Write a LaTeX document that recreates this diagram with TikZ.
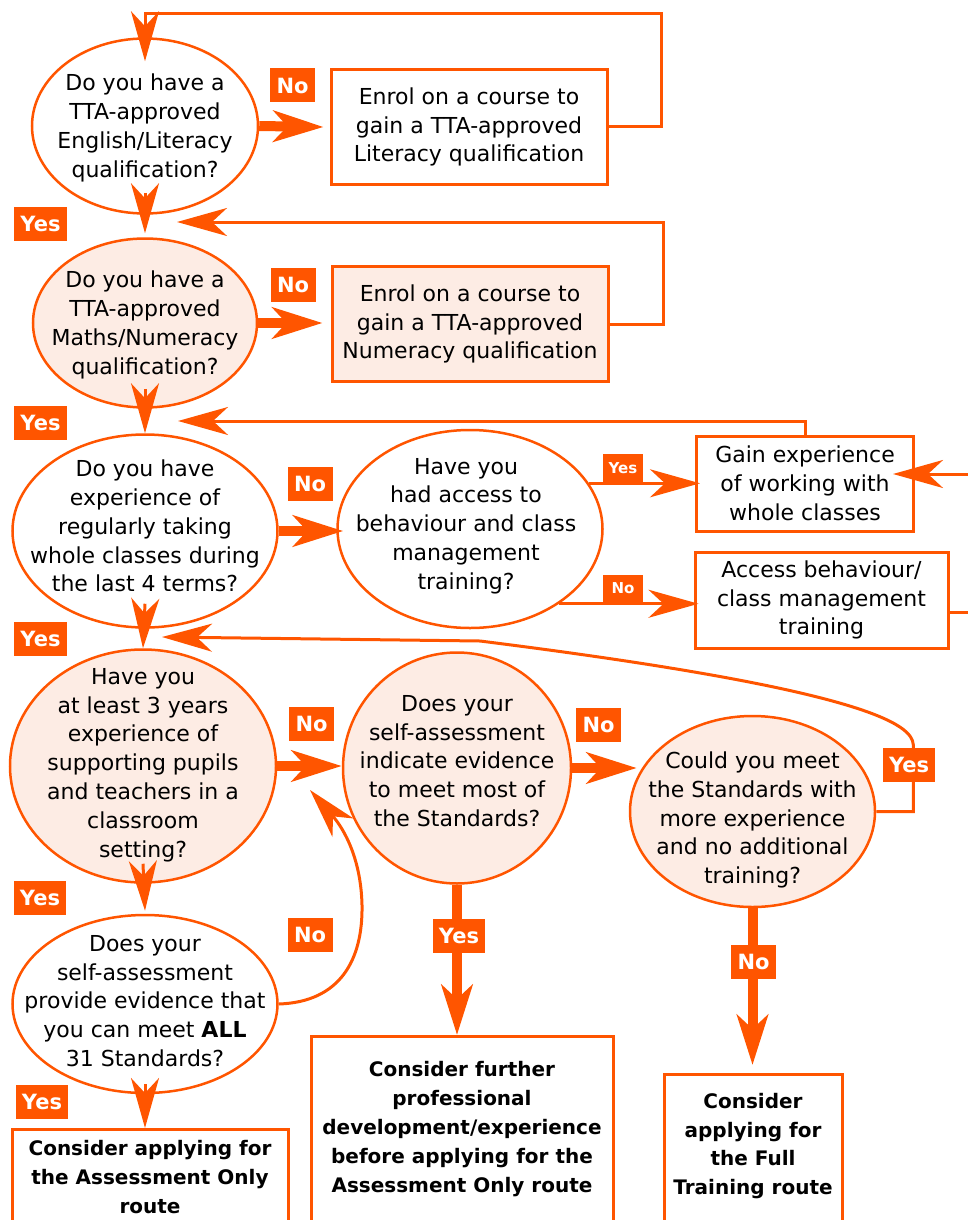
\documentclass[tikz,border=0pt]{standalone}
\usepackage{fontspec}
\setmainfont{DejaVu Sans}
\usepackage{tikz}
\usetikzlibrary{arrows.meta}
\usetikzlibrary{shapes.geometric}
\definecolor{tta}{RGB}{255,85,0}
\definecolor{ttapale}{RGB}{253,236,228}

\begin{document}
\begin{tikzpicture}[x=1pt,y=-1pt]
        \tikzstyle{every node}=[inner sep=0pt]
        \tikzstyle{question}=[ellipse,draw=tta,line width=2.5pt,fill=white]
        \tikzstyle{palequestion}=[question,fill=ttapale]
        \tikzstyle{words}=[align=center,font=\fontsize{22}{28.8}\selectfont]
        \tikzstyle{boldwords}=[align=center,font=\bfseries\fontsize{20}{28.8}\selectfont]
        \tikzstyle{action}=[rectangle,draw=tta,line width=3pt,fill=white,words]
        \tikzstyle{paleaction}=[action,fill=ttapale]
        \tikzstyle{answer}=[fill=tta,text=white,font=\bfseries\fontsize{21}{21}\selectfont,inner xsep=6pt,minimum width=45pt,minimum height=34pt]
        \tikzstyle{smallanswer}=[answer,font=\bfseries\fontsize{15}{15}\selectfont,minimum width=40pt,minimum height=28pt]
        \tikzstyle{link}=[draw=tta,line width=3pt]
        \tikzstyle{pointer}=[link,-{Stealth[length=50pt,width=28pt,inset=15pt]}]
        \tikzstyle{bigpointer}=[draw=tta,line width=10pt,-{Stealth[length=50pt,width=31pt,inset=14pt]}]

        \useasboundingbox (0,0) rectangle (967,1220);

        \node[question,minimum width=226pt,minimum height=175pt] (q1) at (145,126) {};
        \node[words] (q1t) at (145,128) {Do you have a\\TTA-approved\\English/Literacy\\qualification?};
        \node[action,minimum width=276pt,minimum height=114pt] (b1) at (469,127) {Enrol on a course to\\gain a TTA-approved\\Literacy qualification};

        \node[palequestion,minimum width=224pt,minimum height=169pt] (q2) at (145,323) {};
        \node[words] (q2t) at (145,325) {Do you have a\\TTA-approved\\Maths/Numeracy\\qualification?};
        \node[paleaction,minimum width=276pt,minimum height=115pt] (b2) at (470,324) {Enrol on a course to\\gain a TTA-approved\\Numeracy qualification};

        \node[question,minimum width=265pt,minimum height=193pt] (q3) at (145,531) {};
        \node[words] (q3t) at (145,526) {Do you have\\experience of\\regularly taking\\whole classes during\\the last 4 terms?};
        \node[question,minimum width=265pt,minimum height=198pt] (q4) at (470,529) {};
        \node[words] (q4t) at (466,526) {Have you\\had access to\\behaviour and class\\management\\training?};
        \node[action,minimum width=217pt,minimum height=95pt] (gn) at (805,483.5) {Gain experience\\of working with\\whole classes};
        \node[action,minimum width=253pt,minimum height=96pt] (ac) at (821.5,600) {Access behaviour/\\class management\\training};

        \node[palequestion,minimum width=266pt,minimum height=233pt] (q5) at (143,766) {};
        \node[words] (q5t) at (143,765) {Have you\\at least 3 years\\experience of\\supporting pupils\\and teachers in a\\classroom\\setting?};
        \node[palequestion,minimum width=228pt,minimum height=231pt] (q6) at (457,768) {};
        \node[words] (q6t) at (457,761) {Does your\\self-assessment\\indicate evidence\\to meet most of\\the Standards?};
        \node[palequestion,minimum width=245pt,minimum height=191pt] (q7) at (752.5,811.5) {};
        \node[words] (q7t) at (752.5,820) {Could you meet\\the Standards with\\more experience\\and no additional\\training?};

        \node[question,minimum width=265pt,minimum height=178pt] (q8) at (145,1004) {};
        \node[words] (q8t) at (145,1001) {Does your\\self-assessment\\provide evidence that\\you can meet \textbf{ALL}\\31 Standards?};

        \node[action,anchor=north,minimum width=276pt,minimum height=130pt] (f1) at (150,1128) {};
        \node[boldwords] (f1t) at (150,1177) {Consider applying for\\the Assessment Only\\route};
        \node[action,anchor=north,minimum width=302pt,minimum height=220pt] (f2) at (462,1035) {};
        \node[boldwords] (f2t) at (462,1129) {Consider further\\professional\\development/experience\\before applying for the\\Assessment Only route};
        \node[action,anchor=north,minimum width=178pt,minimum height=180pt] (f3) at (753,1073) {};
        \node[boldwords] (f3t) at (753,1146) {Consider\\applying for\\the Full\\Training route};

        \coordinate (back2) at (177,222);
        \coordinate (back3) at (178,421);
        \coordinate (back5) at (162,637);
        \coordinate (edge1) at (970,474);
        \coordinate (edge2) at (970,612);
        \coordinate (turn8) at (310,790);

        \draw[pointer] (b1.east) -- ++(53,0) |- (q1.north |- 0,14) -- ([yshift=-24pt]q1.north);
        \draw[bigpointer] (q1.east) -- ([xshift=-6pt]b1.west);
        \draw[pointer] ([yshift=22pt]q1.south) -- ([yshift=4pt]q2.north);
        \draw[pointer] (b2.east) -- ++(54,0) |- (back2);
        \draw[bigpointer,shorten >=8pt] (q2.east) -- (b2.west |- q2.east);
        \draw[pointer] ([yshift=20pt]q2.south) -- (q3.north);
        \draw[bigpointer,shorten >=-7pt] (q3.east) -- (q4.west |- q3.east);
        \draw[pointer,shorten >=-5pt] (q4.21.5) -- (q4.21.5 -| gn.west);
        \draw[pointer,shorten >=-5pt] (q4.-40) -- (q4.-40 -| ac.west);
        \draw[pointer] (gn.north) |- (back3);
        \draw[pointer,shorten >=-22pt] (edge1) -- (gn.east |- edge1);
        \draw[link] (ac.east |- edge2) -- (edge2);
        \draw[pointer] ([yshift=25pt]q3.south) -- (q5.north);
        \draw[bigpointer] (q5.east) -- (q6.west |- q5.east);
        \draw[bigpointer,shorten >=-8pt] (q6.east) -- (q7.west |- q6.east);
        \draw[pointer] (q7.east) -- ++(37,0) -- ++(0,-67) .. controls (912,725) and (870,690) .. (480,641) -- (back5);
        \draw[pointer] ([yshift=20pt]q5.south) -- ([yshift=3pt]q8.north);
        \draw[pointer] (q8.east) .. controls (340,1002) and (363,960) .. (362,905) .. controls (361,860) and (345,830) .. (turn8);
        \draw[bigpointer] (q6.south) -- (q6.south |- f2.north);
        \draw[bigpointer,shorten >=8pt] (q7.south) -- (q7.south |- f3.north);
        \draw[pointer] ([yshift=10pt]q8.south) -- (q8.south |- f1.north);

        \node[answer] (no1) at (292.5,85.5) {No};
        \node[answer] (yes1) at (40.5,224) {Yes};
        \node[answer] (no2) at (293,284.5) {No};
        \node[answer] (yes2) at (40.5,422.5) {Yes};
        \node[answer] (no3) at (310,484) {No};
        \node[answer] (yes3) at (40.5,639) {Yes};
        \node[smallanswer] (yes4) at (623,468) {Yes};
        \node[smallanswer] (no4) at (623,588.5) {No};
        \node[answer] (no5) at (311.5,724) {No};
        \node[answer] (no6) at (598.5,724.5) {No};
        \node[answer] (yes7) at (909,764.5) {Yes};
        \node[answer] (yes5) at (40,897.5) {Yes};
        \node[answer] (no8) at (310,935) {No};
        \node[answer] (yes8) at (42,1101.5) {Yes};
        \node[answer] (yes6) at (459,935.5) {Yes};
        \node[answer] (no7) at (753.5,962) {No};
        \tikzstyle{every node}=[]
\end{tikzpicture}
\end{document}
